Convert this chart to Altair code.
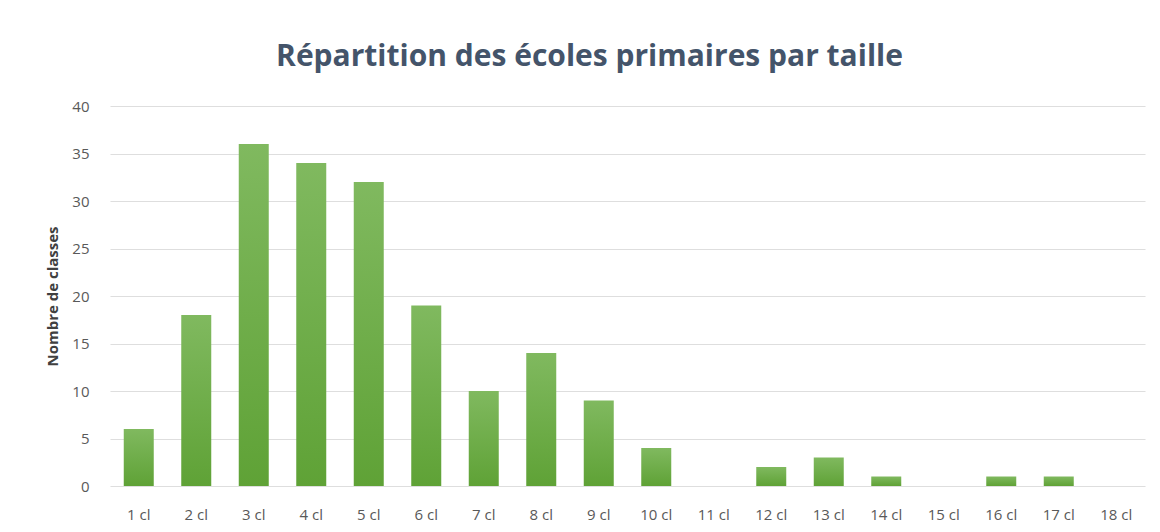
import altair as alt
import pandas as pd

categories = [f"{i} cl" for i in range(1, 19)]
values = [6, 18, 36, 34, 32, 19, 10, 14, 9, 4, 0, 2, 3, 1, 0, 1, 1, 0]

df = pd.DataFrame({"cat": categories, "val": values})

gradient = {
    "gradient": "linear",
    "x1": 0, "y1": 0, "x2": 0, "y2": 1,
    "stops": [
        {"offset": 0, "color": "#80b95f"},
        {"offset": 1, "color": "#5fa236"},
    ],
}

chart = alt.Chart(df).mark_bar(
    fill=gradient, size=30
).encode(
    x=alt.X("cat:N", sort=categories, title=None,
            axis=alt.Axis(labelAngle=0, labelFontSize=15, labelColor="#595959",
                          labelFont="Open Sans", labelPadding=21, ticks=False,
                          domain=False)),
    y=alt.Y("val:Q", scale=alt.Scale(domain=[0, 40]), title="Nombre de classes",
            axis=alt.Axis(values=list(range(0, 41, 5)), labelFontSize=15,
                          labelColor="#595959", labelFont="Open Sans",
                          labelPadding=21, ticks=False, domain=False,
                          gridColor="#dedede", gridWidth=1.2,
                          titleFont="Open Sans", titleFontSize=15,
                          titleFontWeight="bold", titleColor="#404040",
                          titlePadding=11)),
).properties(
    width=1035,
    height=380,
    title=alt.TitleParams(
        "Répartition des écoles primaires par taille",
        font="Open Sans", fontSize=30, fontWeight="bold", color="#44546a",
        anchor="middle", offset=27, dx=-38,
    ),
    autosize=alt.AutoSizeParams(type="none"),
    padding={"left": 102, "top": 98, "right": 7, "bottom": 38},
).configure_view(stroke=None)

chart.save("out.html", embed_options={"renderer": "svg", "actions": False})
